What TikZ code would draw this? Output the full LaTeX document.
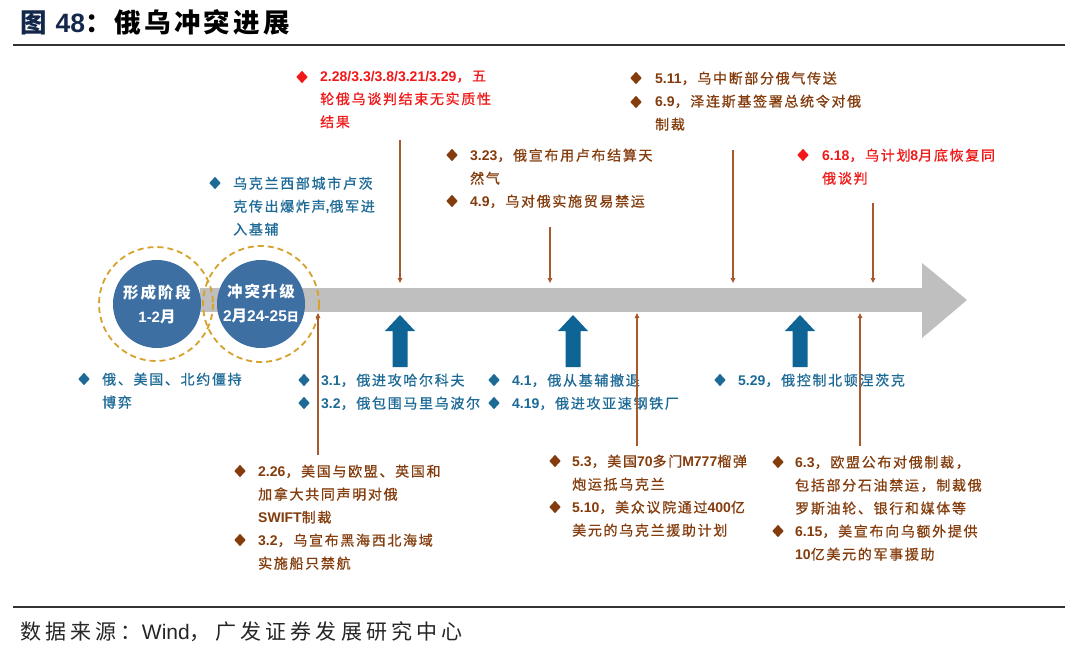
\documentclass[tikz,border=0pt]{standalone}
\usepackage{fontspec}
\setmainfont{Noto Sans CJK SC}
\newfontfamily\cjk[LetterSpace=12,FakeBold=0.7]{Noto Sans CJK SC}
\newfontfamily\cjkt[LetterSpace=12]{Noto Sans CJK SC}
\newfontfamily\cjkw[LetterSpace=20]{Noto Sans CJK SC}
\newfontfamily\lat{Liberation Sans}
\usetikzlibrary{arrows.meta,shapes.geometric}
\newcommand\nb[1]{{\lat\bfseries #1}}
\definecolor{redtxt}{HTML}{F01818}
\definecolor{browntxt}{HTML}{843C0C}
\definecolor{bluetxt}{HTML}{1D6A97}
\definecolor{blockblue}{HTML}{0F6496}
\definecolor{circblue}{HTML}{3D6FA3}
\definecolor{dashgold}{HTML}{D6A22C}
\definecolor{barg}{HTML}{BFBFBF}
\definecolor{lineb}{HTML}{A65A2E}
\definecolor{navy}{HTML}{14284B}
\begin{document}
\begin{tikzpicture}[x=1pt,y=-1pt,
  txt/.style={anchor=north west, inner sep=0pt, align=left, font=\cjk\fontsize{14}{23}\selectfont, text=#1},
  dia/.style={diamond, fill=#1, inner sep=0pt, minimum width=11.5pt, minimum height=12.5pt},
  conn/.style={draw=lineb, line width=1.3pt, -{Triangle[length=5pt,width=4.5pt]}},
  blockarrow/.style={fill=blockblue},
  rule/.style={draw=black!80, line width=1.8pt}]
\path[use as bounding box, fill=white] (0,0) rectangle (1080,646);

% title and rules
\node[anchor=west, inner sep=0pt] (title) at (20,22)
  {\fontsize{26.5}{26.5}\selectfont\cjkt\bfseries{\color{navy}图\hspace{9pt}\nb{48}}：俄乌冲突进展};
\coordinate (r1a) at (13,45); \coordinate (r1b) at (1065,45);
\draw[rule] (r1a) -- (r1b);
\coordinate (r2a) at (13,607); \coordinate (r2b) at (1065,607);
\draw[rule] (r2a) -- (r2b);
\node[anchor=west, inner sep=0pt, text=black!85] (src) at (20,632)
  {\cjkw\fontsize{21}{22}\selectfont 数据来源：{\lat Wind}，广发证券发展研究中心};

% main arrow
\fill[barg] (200,288) rectangle (923,312);
\fill[barg] (922,263) -- (967,300) -- (922,338) -- cycle;

% stage circles
\fill[circblue] (157,304) circle (44);
\fill[circblue] (261,304) circle (44);
\draw[dashgold, line width=1.8pt, dash pattern=on 6pt off 4pt] (156,304) circle (57);
\draw[dashgold, line width=1.8pt, dash pattern=on 6pt off 4pt] (261,304) circle (58);
\node[align=center, text=white, inner sep=0pt, font=\cjkt\bfseries\fontsize{15.5}{24}\selectfont] (c1) at (157,304)
  {形成阶段\\\nb{\fontsize{15}{24}\selectfont 1-2}月};
\node[align=center, text=white, inner sep=0pt, font=\cjkt\bfseries\fontsize{15.5}{24}\selectfont] (c2) at (261,304)
  {冲突升级\\\nb{\fontsize{15.5}{24}\selectfont 2}月\nb{\fontsize{15.5}{24}\selectfont 24-25}{\fontsize{12}{12}\selectfont 日}};

% blue block arrows
\foreach \x/\n in {400/ba1,573/ba2,800/ba3}{
  \fill[blockblue] (\x-7.5,367) -- (\x-7.5,331) -- (\x-15,331) -- (\x,315) -- (\x+15,331) -- (\x+7.5,331) -- (\x+7.5,367) -- cycle;
}

% ---------- top items ----------
\node[dia=redtxt] (d1) at (302,77) {};
\node[txt=redtxt] (t1) at (320,70.5) {\nb{2.28/3.3/3.8/3.21/3.29}，五\\轮俄乌谈判结束无实质性\\结果};

\node[dia=bluetxt] (d2) at (215,183) {};
\node[txt=bluetxt] (t2) at (233,176.5) {乌克兰西部城市卢茨\\克传出爆炸声\nb{,}俄军进\\入基辅};

\node[dia=browntxt] (d3a) at (452,155) {};
\node[dia=browntxt] (d3b) at (452,201) {};
\node[txt=browntxt] (t3) at (470,148.5) {\nb{3.23}，俄宣布用卢布结算天\\然气\\\nb{4.9}，乌对俄实施贸易禁运};

\node[dia=browntxt] (d4a) at (636,78) {};
\node[dia=browntxt] (d4b) at (636,102) {};
\node[txt=browntxt] (t4) at (655,71.5) {\nb{5.11}，乌中断部分俄气传送\\\nb{6.9}，泽连斯基签署总统令对俄\\制裁};

\node[dia=redtxt] (d5) at (803,155) {};
\node[txt=redtxt] (t5) at (822,148.5) {\nb{6.18}，乌计划\nb{8}月底恢复同\\俄谈判};

% ---------- middle (blue) items ----------
\node[dia=bluetxt] (d6) at (84,379) {};
\node[txt=bluetxt] (t6) at (102,372.5) {俄、美国、北约僵持\\博弈};

\node[dia=bluetxt] (d7a) at (304,380) {};
\node[dia=bluetxt] (d7b) at (304,403) {};
\node[txt=bluetxt] (t7) at (321,373.5) {\nb{3.1}，俄进攻哈尔科夫\\\nb{3.2}，俄包围马里乌波尔};

\node[dia=bluetxt] (d8a) at (494,380) {};
\node[dia=bluetxt] (d8b) at (494,403) {};
\node[txt=bluetxt] (t8) at (512,373.5) {\nb{4.1}，俄从基辅撤退\\\nb{4.19}，俄进攻亚速钢铁厂};

\node[dia=bluetxt] (d9) at (720,380) {};
\node[txt=bluetxt] (t9) at (738,373.5) {\nb{5.29}，俄控制北顿涅茨克};

% ---------- bottom items ----------
\node[dia=browntxt] (d10a) at (240,471) {};
\node[dia=browntxt] (d10b) at (240,540) {};
\node[txt=browntxt] (t10) at (258,464.5) {\nb{2.26}，美国与欧盟、英国和\\加拿大共同声明对俄\\\nb{SWIFT}制裁\\\nb{3.2}，乌宣布黑海西北海域\\实施船只禁航};

\node[dia=browntxt] (d11a) at (555,461) {};
\node[dia=browntxt] (d11b) at (555,507) {};
\node[txt=browntxt] (t11) at (572,454.5) {\nb{5.3}，美国\nb{70}多门\nb{M777}榴弹\\炮运抵乌克兰\\\nb{5.10}，美众议院通过\nb{400}亿\\美元的乌克兰援助计划};

\node[dia=browntxt] (d12a) at (778,462) {};
\node[dia=browntxt] (d12b) at (778,531) {};
\node[txt=browntxt] (t12) at (795,455.5) {\nb{6.3}，欧盟公布对俄制裁，\\包括部分石油禁运，制裁俄\\罗斯油轮、银行和媒体等\\\nb{6.15}，美宣布向乌额外提供\\\nb{10}亿美元的军事援助};

% ---------- connectors ----------
\coordinate (a1s) at (400,140); \coordinate (a1e) at (400,283);
\coordinate (a2s) at (550,227); \coordinate (a2e) at (550,283);
\coordinate (a3s) at (733,150); \coordinate (a3e) at (733,283);
\coordinate (a4s) at (873,203); \coordinate (a4e) at (873,283);
\coordinate (u1s) at (318,455); \coordinate (u1e) at (318,313);
\coordinate (u2s) at (637,446); \coordinate (u2e) at (637,313);
\coordinate (u3s) at (860,446); \coordinate (u3e) at (860,313);
\foreach \s/\e in {a1s/a1e,a2s/a2e,a3s/a3e,a4s/a4e,u1s/u1e,u2s/u2e,u3s/u3e}
  \draw[conn] (\s) -- (\e);
\end{tikzpicture}
\end{document}
